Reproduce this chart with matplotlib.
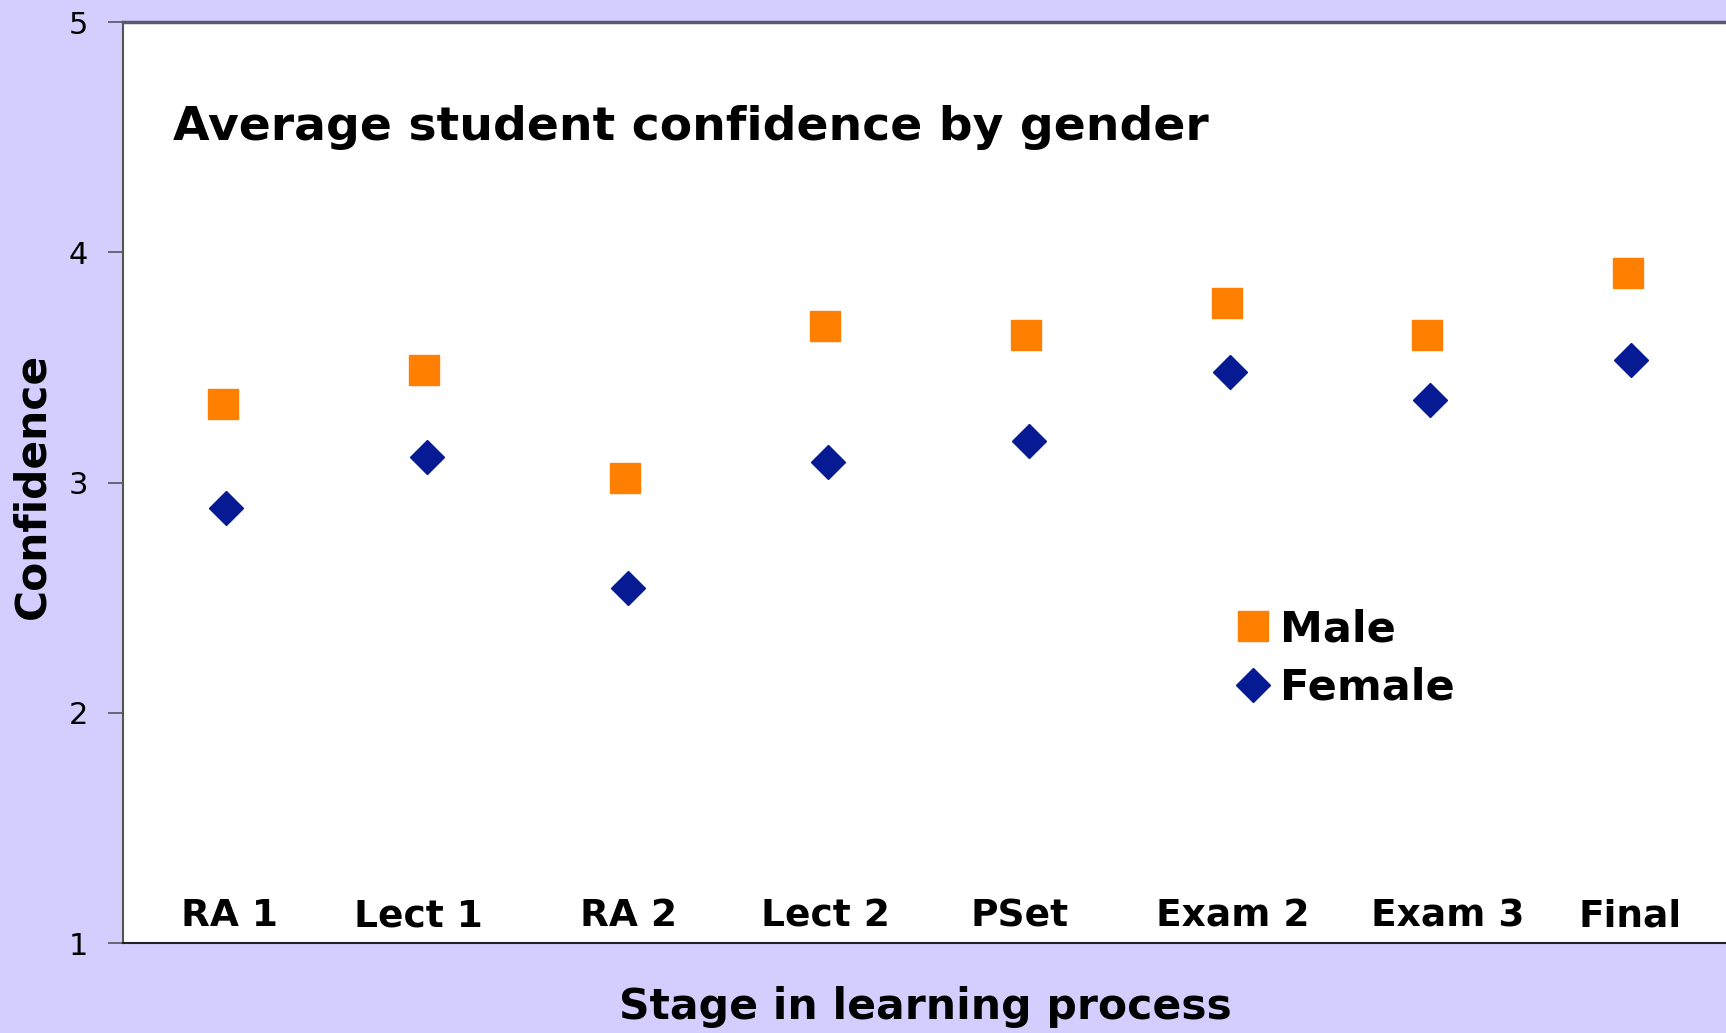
import numpy as np
import matplotlib.pyplot as plt
import matplotlib.transforms as mtransforms

# data
stages = ["RA 1", "Lect 1", "RA 2", "Lect 2", "PSet", "Exam 2", "Exam 3", "Final"]
male = [3.34, 3.49, 3.02, 3.68, 3.64, 3.78, 3.64, 3.91]
female = [2.89, 3.11, 2.54, 3.09, 3.18, 3.48, 3.36, 3.53]
y_ticks = [1, 2, 3, 4, 5]

# small horizontal nudges of the category labels (in category units), as in the original
label_shift = [0.03, -0.03, 0.02, 0.0, -0.03, 0.03, 0.1, 0.01]

bg = "#d4ceff"
orange = "#ff7f00"
navy = "#051a93"

plt.rcParams['font.family'] = ['DejaVu Sans']

fig = plt.figure(figsize=(17.26, 10.33), dpi=100, facecolor=bg)
ax = fig.add_axes([0.0713, 0.0871, 0.93, 0.8916])
ax.set_facecolor("white")

x = np.arange(len(stages))
ax.plot(x, male, linestyle="none", marker="s", markersize=21.5, color=orange, label="Male")
ax.plot(x + 0.015, female, linestyle="none", marker="D", markersize=17, color=navy, label="Female")

ax.set_xlim(-0.5, 7.5)
ax.set_ylim(1, 5)
ax.set_yticks(y_ticks)
ax.set_yticklabels([str(t) for t in y_ticks], fontsize=22)
ax.set_xticks([])
ax.tick_params(axis="y", direction="out", length=11, width=1.2, color="#555555", pad=14)

ax.spines["right"].set_visible(False)
ax.spines["left"].set_color("#555555")
ax.spines["left"].set_linewidth(1.5)
ax.spines["bottom"].set_color("#222222")
ax.spines["bottom"].set_linewidth(1.5)
ax.spines["top"].set_color("#5a5a6e")
ax.spines["top"].set_linewidth(2.5)

# category labels drawn inside the plot area
trans = mtransforms.blended_transform_factory(ax.transData, ax.transAxes)
for xi, name, dx in zip(x, stages, label_shift):
    ax.text(xi + dx, 0.018, name, transform=trans, ha="center", va="baseline",
            fontsize=27, fontweight="bold")

ax.text(0.031, 0.872, "Average student confidence by gender", transform=ax.transAxes,
        fontsize=34, fontweight="bold", va="baseline", ha="left")

fig.text(0.019, 0.530, "Confidence", rotation=90, fontsize=30.5, fontweight="bold",
         ha="center", va="center")
fig.text(0.536, 0.025, "Stage in learning process", fontsize=30.6, fontweight="bold",
         ha="center", va="center")

ax.legend(loc="upper left", bbox_to_anchor=(0.677, 0.387), frameon=False,
          prop={"weight": "bold", "size": 31},
          handletextpad=0.12, labelspacing=0.39, handlelength=1.0, borderpad=0)

fig.savefig("out.png", dpi=100, facecolor=bg)
